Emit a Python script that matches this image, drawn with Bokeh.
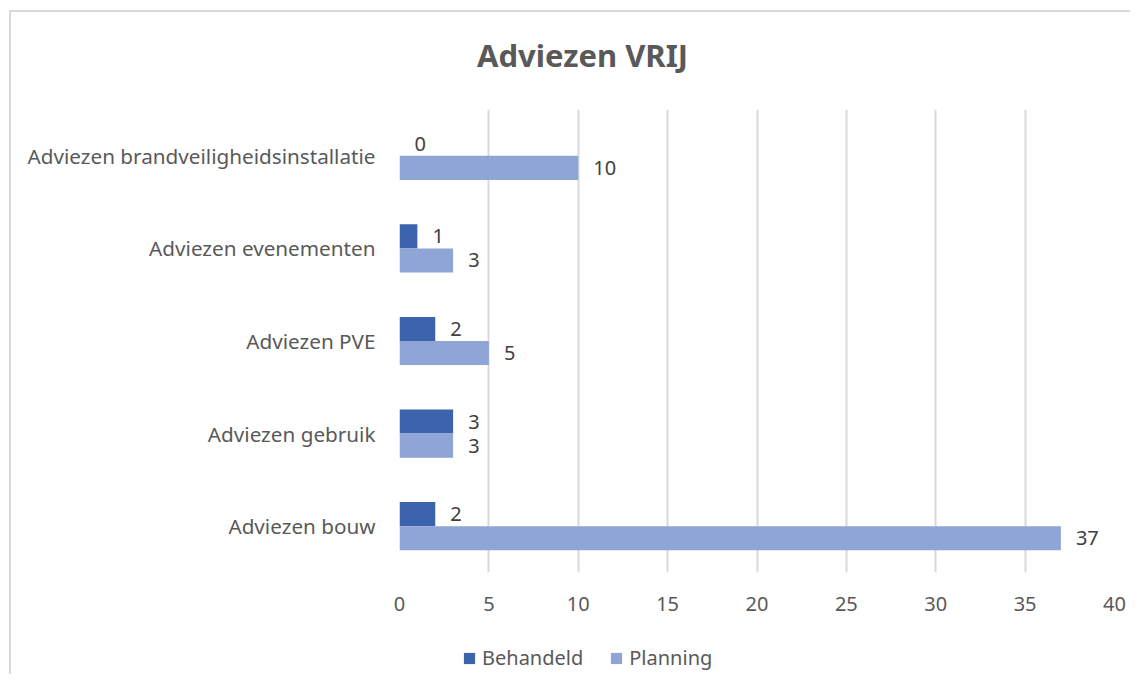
from bokeh.plotting import figure
from bokeh.layouts import column
from bokeh.models import (FactorRange, Range1d, ColumnDataSource, LabelSet, Label,
                          Legend, LegendItem, SingleIntervalTicker)
from bokeh.transform import dodge
from bokeh.core.properties import value
from bokeh.embed import file_html
from bokeh.resources import INLINE

categories = ["Adviezen brandveiligheidsinstallatie", "Adviezen evenementen",
              "Adviezen PVE", "Adviezen gebruik", "Adviezen bouw"]
behandeld = [0, 1, 2, 3, 2]
planning = [10, 3, 5, 3, 37]
title_text = "Adviezen VRIJ"
series_names = ["Behandeld", "Planning"]

FONT = "Noto Sans"
DARK = "#3B64AD"
LIGHT = "#8FA5D6"
GRAY = "#595959"

src = ColumnDataSource(dict(cat=categories, beh=behandeld, plan=planning,
                            beh_s=[str(v) for v in behandeld],
                            plan_s=[str(v) for v in planning]))


def strip(height):
    f = figure(width=1119, height=height, output_backend="svg", toolbar_location=None,
               x_range=Range1d(0, 1), y_range=Range1d(0, 1),
               x_axis_type=None, y_axis_type=None,
               min_border_left=0, min_border_right=0, min_border_top=0, min_border_bottom=0)
    f.outline_line_color = None
    f.grid.grid_line_color = None
    f.background_fill_color = "white"
    f.border_fill_color = "white"
    return f


# title strip (its frame is aligned with the chart's frame)
t = strip(70)
t.add_layout(Label(x=183, y=28, x_units="screen", y_units="screen", text=title_text,
                   text_align="center", text_baseline="middle", text_font=FONT,
                   text_font_size="31px", text_font_style="bold", text_color=GRAY))

p = figure(width=1119, height=550, output_backend="svg", toolbar_location=None,
           y_range=FactorRange(factors=list(reversed(categories)), range_padding=0),
           x_range=Range1d(0, 40),
           min_border_left=388, min_border_right=16, min_border_top=27, min_border_bottom=60)
p.title = None
p.outline_line_color = None
p.background_fill_color = "white"
p.border_fill_color = "white"

off = 0.13
h = 0.26
r1 = p.hbar(y=dodge("cat", off, range=p.y_range), right="beh", left=0, height=h,
            source=src, fill_color=DARK, line_color=None)
r2 = p.hbar(y=dodge("cat", -off, range=p.y_range), right="plan", left=0, height=h,
            source=src, fill_color=LIGHT, line_color=None)

for col, txt, o in (("beh", "beh_s", off), ("plan", "plan_s", -off)):
    ls = LabelSet(x=col, y=dodge("cat", o, range=p.y_range), text=txt, source=src,
                  x_offset=15, text_baseline="middle", text_align="left",
                  text_font=value(FONT), text_font_size="20px", text_color="#404040")
    p.add_layout(ls)

p.xaxis.ticker = SingleIntervalTicker(interval=5)
for ax in (p.xaxis, p.yaxis):
    ax.axis_line_color = None
    ax.major_tick_line_color = None
    ax.minor_tick_line_color = None
    ax.major_label_text_font = FONT
    ax.major_label_text_font_size = "20px"
    ax.major_label_text_color = GRAY
p.yaxis.major_label_text_font_size = "20.7px"
p.xaxis.major_label_standoff = 18
p.yaxis.major_label_standoff = 18

p.ygrid.grid_line_color = None
p.xgrid.grid_line_color = "#d9d9d9"
p.xgrid.grid_line_width = 2

# legend strip below the chart
q = strip(42)
e1 = q.hbar(y="beh", right="plan", height=1, source=src, fill_color=DARK,
            line_color=None, visible=False)
e2 = q.hbar(y="plan", right="beh", height=1, source=src, fill_color=LIGHT,
            line_color=None, visible=False)

legend = Legend(items=[LegendItem(label=series_names[0], renderers=[e1]),
                       LegendItem(label=series_names[1], renderers=[e2])],
                location=(63, 3), orientation="horizontal",
                glyph_width=14, glyph_height=14, label_height=14,
                label_standoff=6, spacing=26, padding=0, margin=0,
                border_line_color=None, background_fill_alpha=0,
                inactive_fill_alpha=0,
                label_text_font=FONT, label_text_font_size="20px",
                label_text_color=GRAY)
q.add_layout(legend)

layout = column(t, p, q, spacing=0, margin=(10, 0, 0, 9),
                styles={"border-top": "2px solid #d9d9d9", "border-left": "2px solid #d9d9d9",
                        "background-color": "white"})

open("out.html", "w").write(file_html(layout, INLINE))
